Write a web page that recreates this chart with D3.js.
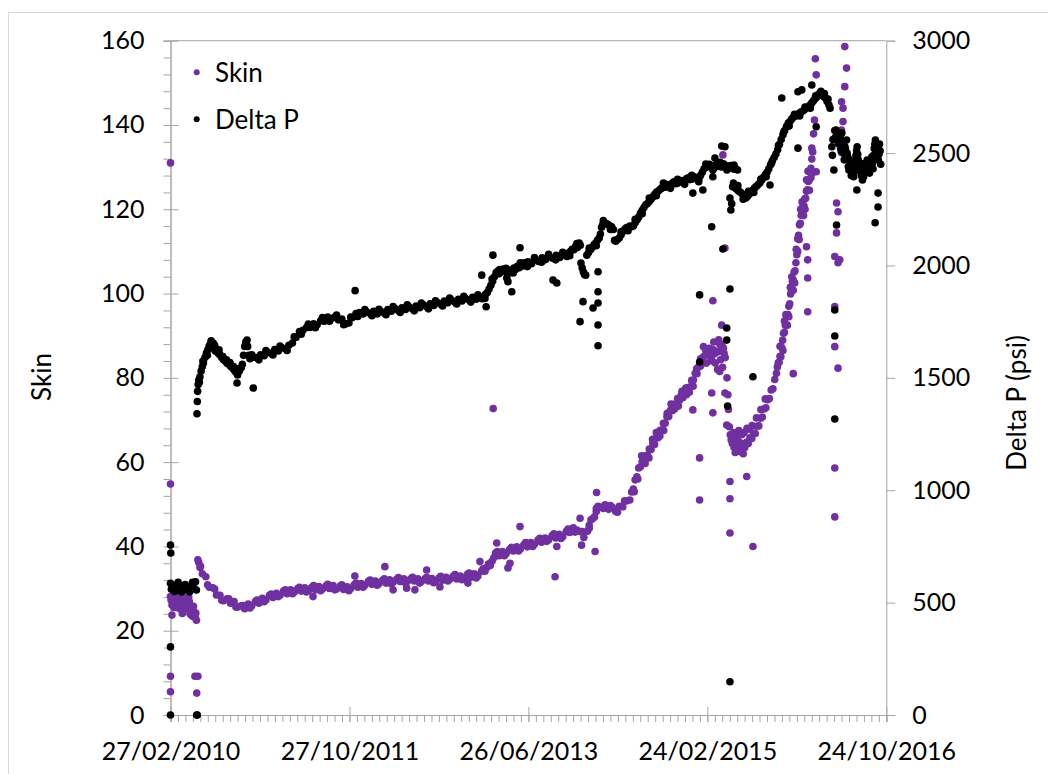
<!DOCTYPE html>
<html><head><meta charset="utf-8">
<script src="https://cdn.jsdelivr.net/npm/d3@7"></script>
<style>
body{margin:0;background:#fff}
text{font-family:Lato,"Open Sans",sans-serif;fill:#000}
</style>
</head><body>
<svg id="c" width="1048" height="774"></svg>
<script>
// ---------- tick labels / axes ----------
const xTickLabels = ["27/02/2010","27/10/2011","26/06/2013","24/02/2015","24/10/2016"];
const leftTicks = [0,20,40,60,80,100,120,140,160];
const rightTicks = [0,500,1000,1500,2000,2500,3000];
const seriesNames = ["Skin","Delta P"];
// day offsets from 27/02/2010, values
const skinEarly = [[0,28.1],[2,27.3],[5,26.1],[8,27.7],[12,25.5],[15,27.3],[18,28.5],[20,26.5],[25,25.7],[28,27],[32,26.3],[35,28.1],[40,24.1],[45,26.8],[48,25.2],[52,27.6],[56,26.4],[60,25.8],[62,28],[66,24.1],[70,23.7],[72,24.9],[76,23.4],[80,24.5],[84,23.2],[88,22.5],[5,23.7],[22,27.8],[38,26.9],[58,27.2],[10,27.0],[30,25.3],[44,27.9],[64,26.9],[78,25.8],[86,24.2]];
const skinBand = [[93,36.8],[96,36.2],[100,35],[108,33.5],[120,32.8],[132,30.3],[144,30.2],[156,28.5],[168,28.4],[180,27.1],[192,27.6],[204,26.5],[216,26.9],[228,25.6],[240,25.9],[252,25.2],[264,26.3],[276,25.9],[288,26.9],[300,26.5],[312,27.7],[324,27.3],[336,28.4],[348,27.9],[360,28.9],[372,28.4],[384,29.4],[396,28.8],[408,29.7],[420,29.1],[432,30.0],[444,29.4],[456,30.2],[468,29.5],[480,30.3],[492,29.7],[504,30.5],[516,29.9],[528,30.6],[540,30.0],[552,30.7],[564,29.9],[576,30.6],[588,29.8],[600,30.4],[612,30.0],[624,30.9],[636,30.3],[648,31.2],[660,30.8],[672,31.7],[684,31.0],[696,31.8],[708,31.2],[720,31.9],[732,31.3],[744,32.1],[756,31.5],[768,32.2],[780,31.7],[792,32.3],[804,31.7],[816,32.3],[828,31.8],[840,32.3],[852,31.7],[864,32.3],[876,31.8],[888,32.4],[900,31.8],[912,32.5],[924,32.0],[936,32.7],[948,32.2],[960,32.9],[972,32.3],[984,33.0],[996,32.5],[1008,33.3],[1020,32.7],[1032,33.5],[1044,33.0],[1056,34.1],[1062,34.6],[1068,34.1],[1074,35.0],[1080,35.8],[1086,36.0],[1092,36.5],[1098,37.3],[1104,38.4],[1116,37.8],[1128,38.8],[1140,38.3],[1152,39.3],[1164,38.9],[1176,39.9],[1188,39.4],[1200,40.4],[1212,39.9],[1224,40.9],[1236,40.5],[1248,41.5],[1260,41.0],[1272,42.0],[1284,41.6],[1296,42.6],[1308,42.0],[1320,42.9],[1332,42.3],[1344,43.5],[1356,43.3],[1368,44.4],[1380,43.9],[1392,43.5],[1404,42.1],[1416,43.6],[1422,45.0],[1428,46.3],[1434,46.6],[1440,47.0],[1446,48.3],[1452,49.5],[1464,49.3],[1476,49.9],[1488,48.8],[1500,49.3],[1512,48.3],[1524,49.5],[1536,49.4],[1548,50.8]];
const skinBand2 = [[102,35.3],[126,30.9],[150,29.9],[174,27.2],[198,27.6],[222,25.6],[246,26.0],[270,25.4],[294,27.3],[318,26.9],[342,28.7],[366,28.1],[390,29.7],[414,28.8],[438,30.3],[462,29.2],[486,30.7],[510,29.5],[534,31.0],[558,29.7],[582,30.9],[606,29.5],[630,31.3],[654,30.3],[678,32.0],[702,30.8],[726,32.3],[750,31.1],[774,32.6],[798,31.3],[822,32.7],[846,31.3],[870,32.7],[894,31.4],[918,32.9],[942,31.8],[966,33.3],[990,32.1],[1014,33.7],[1038,32.5],[1062,34.7],[1086,35.5],[1110,38.8],[1134,37.8],[1158,39.8],[1182,38.9],[1206,40.9],[1230,40.0],[1254,41.9],[1278,41.2],[1302,43.0],[1326,41.9],[1350,44.1],[1374,43.4],[1398,43.5],[1422,44.3],[1446,49.0],[1470,49.0],[1494,49.7],[1518,48.1],[1542,50.8]];
const skinRise1 = [[1560,51.0],[1566,52.9],[1572,53.6],[1578,55.8],[1584,56.5],[1590,58.6],[1596,58.9],[1602,60.2],[1608,60.1],[1614,61.5],[1620,61.6],[1626,63.1],[1632,63.0],[1638,64.5],[1644,64.2],[1650,65.7],[1656,65.8],[1662,67.5],[1668,67.6],[1674,69.2],[1680,69.2],[1686,70.8],[1692,70.8],[1698,72.3],[1704,72.2],[1710,73.7],[1716,73.6],[1722,75.1],[1728,74.6],[1734,75.8],[1740,75.3],[1746,76.5],[1752,76.0],[1758,77.7],[1764,77.8],[1770,79.4],[1776,79.5],[1782,81.1],[1788,81.0],[1794,82.6],[1800,82.8],[1806,84.7],[1812,85.1],[1818,86.5],[1824,85.9],[1830,87.0],[1836,86.1],[1842,86.7],[1848,85.7],[1854,86.3],[1860,86.2],[1866,87.9],[1872,87.9],[1878,87.1],[1884,84.8],
 [1575,53],[1600,61.5],[1625,61],[1650,67],[1675,67.5],[1700,73.8],[1725,73.3],[1750,77.6],[1775,78],[1800,84.5],
 [1587,56.0],[1612,59.7],[1637,65.4],[1662,66.2],[1687,71.6],[1712,72.6],[1737,76.8],[1762,76.6],[1787,82.2],[1812,83.6],
 [1820,83.5],[1810,87.4],[1840,84],[1845,88.5],[1850,83.5],[1858,82],[1862,89],[1865,81.5],[1875,82.5],[1880,85.8],[1835,84.8],[1868,84.3],
 [1890,80],[1893,76],[1895,72.5],[1898,68.4],[1901,66.5],[1904,65.3]];
const skinRise2 = [[1908,64.4],[1914,63.5],[1920,64.7],[1926,64.1],[1932,64.7],[1938,63.7],[1944,64.3],[1950,63.4],[1956,64.7],[1962,64.4],[1968,65.8],[1974,65.6],[1980,66.9],[1986,66.8],[1992,68.5],[1998,68.6],[2004,70.4],[2010,70.7],[2016,72.6],[2022,72.9],[2028,74.8],[2034,75.1],[2040,77.1],[2046,77.4],[2052,79.6],[2058,81.1],
 [1912,67],[1918,62.3],[1920,66.5],[1925,66],[1930,67.5],[1935,62.5],[1940,66.5],[1945,62],[1948,67],[1958,68],[1965,67.8],[1975,68.7],[1990,70.5],[2005,72.5],[2020,75],
 [2061,82.6],[2064,83.6],[2067,83.7],[2070,85.1],[2073,85.0],[2076,87.2],[2079,88.9],[2082,90.6],[2085,90.8],[2088,92.5],[2091,92.6],[2094,94.6],[2097,95.0],[2100,97.0],[2103,97.6],[2106,99.9],[2109,100.6],[2112,102.9],[2115,103.2],[2118,105.1],[2121,105.4],[2124,107.3],[2127,109.2],[2130,113.0],[2133,113.8],[2136,116.3],[2139,116.7],[2142,118.6],[2145,119.0],[2148,120.8],[2151,120.9],[2154,122.5],[2157,122.6],[2160,124.3],[2163,124.6],[2166,126.6],[2169,126.9],[2172,129.1],[2175,129.7],[2178,131.9],[2181,133.6],[2184,137.9],[2187,141.2],
 [2070,87.5],[2080,86.5],[2090,95],[2100,94.5],[2110,104],[2120,102.5],[2130,110],[2140,120],[2150,118.5],[2160,127],[2170,124.5],[2178,134.5],
 [2085,93.5],[2095,92.5],[2105,101.5],[2115,100.8],[2125,110.5],[2135,112.8],[2145,121.8],[2155,120.0],[2165,129.0],[2175,127.5]];
const skinOutliers = [[0,131],[0,54.8],[0,9.2],[0,5.5],[83,9.2],[93,9.2],[89,5.2],[626,33],[728,35.2],[756,29.7],[484,28.1],[802,30.1],[830,29.7],[870,34.4],[915,30.4],[1010,31.3],[1051,36.4],[1108,40.8],[1146,34.9],[1153,36],[1187,44.7],[1306,32.8],[1312,40],[1391,46.7],[1396,40.3],[1442,38.8],[1096,72.7],[1447,52.8],[1797,61],[1797,51],[1838,76.4],[1842,71.7],[1774,72.4],[1883,76.4],[1889,68.8],[1900,55.4],[1900,51.3],[1900,43.2],[1957,56.6],[1978,40],[2115,81],[1842,98.3],[1872,92.5],[1883,110.8],[1876,132.9],[2193,151.9],[2190,155.7],[2160,111.1],[2164,103.7],[2164,95.7],[2164,108],[2180,128.6],[2193,128.9],[2290,158.6],[2296,153.5],[2290,149.1],[2279,145.5],[2284,144],[2284,140.8],[2279,138.8],[2279,133.4],[2262,121.5],[2267,119.4],[2262,114.4],[2256,108.8],[2273,108],[2267,107.3],[2256,96.9],[2256,87.4],[2267,82.3],[2256,58.6],[2256,47]];

const dpEarly = [[0,586],[3,560],[6,565],[10,578],[14,550],[18,574],[22,560],[26,590],[30,556],[34,570],[38,548],[42,575],[46,562],[50,580],[55,556],[60,570],[65,548],[70,575],[75,590],[80,565],[85,593],[88,556]];
const dpRise = [[90,1340],[91,1395],[92,1440],[94,1470],[96,1490],[98,1480],[100,1505],[104,1530],[108,1550],[112,1566],[117,1590],[122,1610],[127,1625],[131,1640],[135,1650],[140,1635],[145,1655],[150,1645],[156,1625],[162,1610],[168,1602],[174,1590],[180,1580],[186,1575],[192,1565],[198,1560],[204,1552],[210,1545],[216,1535],[222,1525],[228,1513],[234,1530],[240,1545],[244,1560],[248,1600],[252,1640],[256,1660],[260,1668],[262,1640],[266,1600],
 [110,1575],[125,1600],[138,1665],[152,1620],[165,1625],[178,1595],[190,1580],[202,1568],[214,1550],[226,1540]];
const dpBand = [[270,1585],[282,1592],[294,1590],[306,1602],[318,1598],[330,1614],[342,1608],[354,1626],[366,1620],[378,1634],[390,1630],[402,1645],[414,1655],[426,1680],[438,1706],[450,1712],[462,1724],[474,1724],[486,1740],[498,1736],[510,1754],[522,1752],[534,1770],[546,1764],[558,1770],[570,1758],[582,1762],[594,1740],[606,1744],[618,1768],[630,1786],[642,1790],[654,1784],[666,1794],[678,1786],[690,1796],[702,1784],[714,1796],[726,1788],[738,1804],[750,1796],[762,1808],[774,1800],[786,1812],[798,1804],[810,1816],[822,1806],[834,1819],[846,1812],[858,1825],[870,1816],[882,1829],[894,1822],[906,1835],[918,1828],[930,1842],[942,1834],[954,1846],[966,1838],[978,1850],[990,1842],[1002,1853],[1014,1846],[1026,1858],[1038,1850],[1050,1860],[1058,1852],[1064,1862],[1070,1872],[1076,1880],[1082,1895],[1088,1912],[1094,1930],[1100,1950],[1106,1968],[1112,1975],[1118,1982],[1124,1972],[1130,1984],[1136,1975],[1142,1970],[1148,1980],[1154,1968],[1160,1978],[1166,1988],[1172,1982],[1178,1996],[1184,1990],[1190,2004],[1196,1998],[1202,2012],[1208,2004],[1214,2016],[1226,2008],[1238,2025],[1250,2018],[1262,2034],[1274,2026],[1286,2040],[1298,2032],[1310,2045],[1322,2036],[1334,2050],[1346,2040],[1352,2055],[1358,2062],[1364,2072],[1370,2070],[1376,2085],[1382,2080],[1388,2100],[1392,2090]];
const dpBand2 = [[276,1603],[300,1580],[324,1621],[348,1602],[372,1642],[396,1622],[420,1683],[444,1694],[468,1739],[492,1723],[516,1768],[540,1752],[564,1779],[588,1736],[612,1771],[636,1773],[660,1804],[684,1776],[708,1805],[732,1781],[756,1817],[780,1791],[804,1825],[828,1798],[852,1833],[876,1807],[900,1843],[924,1820],[948,1855],[972,1829],[996,1863],[1020,1837],[1044,1870],[1068,1853],[1092,1940],[1116,1963],[1140,1987],[1164,1967],[1188,2012],[1212,1995],[1236,2035],[1260,2014],[1284,2050],[1308,2025],[1332,2059],[1356,2043],[1380,2097]];
const dpMid = [[1394,2011],[1398,1990],[1402,1972],[1406,1960],[1410,1957],[1414,2046],[1420,2058],[1426,2070],[1432,2080],[1438,2092],[1444,2100],[1450,2112],[1456,2122],[1460,2140],[1464,2170],[1468,2182],[1474,2190],[1480,2186],[1486,2182],[1492,2176],[1498,2172],[1504,2160],[1508,2112],[1512,2108],[1518,2115],[1524,2122],[1530,2135],[1536,2150],[1542,2160],[1548,2168],[1554,2170],[1560,2175],[1566,2172],[1572,2176],[1578,2190],[1584,2202],[1590,2215],[1596,2232],[1602,2245],[1608,2258],[1614,2270],[1620,2276],[1626,2285],[1632,2295],[1638,2305],[1644,2316],[1650,2325],[1656,2330],[1662,2338],[1668,2344],[1674,2352],[1680,2348],[1686,2360],[1692,2354],[1698,2356],[1704,2366],[1710,2372],[1716,2364],[1722,2366],[1728,2376],[1734,2378],[1740,2370],[1746,2374],[1752,2386],[1758,2390],[1764,2382],[1770,2384],[1776,2394],[1782,2392],[1788,2384],[1794,2385],[1800,2400],[1806,2415],[1812,2430],[1818,2436],[1824,2440],[1830,2450],[1836,2445],[1842,2438],[1848,2436],[1854,2450],[1860,2448],[1866,2440],[1872,2438],[1878,2452],[1884,2446],[1890,2440],[1896,2434],[1902,2445],[1908,2440],[1914,2428],[1920,2430],[1926,2425],
 [1422,2077],[1446,2088],[1470,2200],[1494,2160],[1530,2150],[1554,2155],[1578,2205],[1602,2230],[1626,2300],[1650,2310],[1674,2367],[1698,2343],[1722,2383],[1746,2361],[1770,2401],[1794,2373],[1818,2451],[1842,2425],[1866,2459],[1890,2425],[1914,2447]];
const dpLate = [[1900,2300],[1903,2247],[1906,2275],[1909,2350],[1912,2367],[1918,2345],[1924,2338],[1930,2330],[1936,2326],[1942,2318],[1948,2310],[1954,2300],[1960,2308],[1966,2318],[1972,2326],[1978,2336],[1984,2345],[1990,2352],[1996,2360],[2002,2368],[2008,2380],[2014,2392],[2020,2404],[2026,2415],[2032,2430],[2038,2448],[2044,2466],[2050,2480],[2056,2496],[2062,2515],[2068,2538],[2074,2560],[2080,2582],[2086,2600],[2092,2618],[2098,2634],[2104,2640],[2110,2652],[2116,2660],[2122,2664],[2128,2670],[2134,2676],[2140,2682],[2146,2686],[2152,2692],[2158,2700],[2164,2704],[2170,2710],[2176,2720],[2182,2730],[2188,2740],[2194,2748],[2200,2760],[2206,2767],[2212,2760],[2218,2752],[2224,2745],[2230,2730],[2236,2715],[2240,2700],
 [1927,2355],[1945,2295],[1963,2330],[1981,2325],[2005,2385],[2023,2395],[2041,2455],[2065,2535],[2083,2595],[2101,2620],[2119,2672],[2137,2665],[2155,2705],[2173,2700],[2191,2755],[2209,2775],[2221,2765],[2233,2740]];
const dpEnd = [[2246,2528],[2248,2490],[2250,2560],[2253,2425],[2256,2600],[2258,2570],[2260,2603],[2263,2560],[2266,2589],[2268,2545],[2270,2540],[2274,2575],[2276,2520],[2278,2510],[2280,2589],[2282,2555],[2284,2545],[2286,2500],[2288,2470],[2290,2530],[2292,2520],[2294,2480],[2296,2558],[2298,2500],[2300,2484],[2302,2440],[2304,2425],[2306,2470],[2308,2460],[2310,2430],[2312,2400],[2314,2445],[2316,2430],[2318,2410],[2320,2395],[2322,2425],[2324,2450],[2326,2470],[2328,2490],[2330,2510],[2332,2528],[2334,2495],[2336,2470],[2338,2440],[2340,2420],[2342,2456],[2344,2430],[2346,2400],[2348,2420],[2350,2380],[2352,2410],[2354,2395],[2356,2425],[2358,2440],[2360,2455],[2362,2420],[2364,2445],[2366,2469],[2368,2440],[2370,2430],[2372,2450],[2374,2411],[2376,2435],[2378,2450],[2380,2470],[2382,2484],[2384,2455],[2386,2430],[2388,2490],[2390,2520],[2392,2540],[2394,2558],[2396,2530],[2398,2500],[2400,2536],[2402,2515],[2404,2470],[2406,2495],[2408,2540],[2410,2510],[2412,2450]];
const dpOutliers = [[0,756],[1,721],[0,303],[0,0],[89,0],[91,0],[226,1477],[281,1455],[627,1888],[1057,1957],[1095,2046],[1187,2079],[1159,1883],[1072,1816],[1142,1944],[1146,1928],[1299,1935],[1312,1922],[1401,1839],[1391,1750],[1435,1811],[1452,1833],[1452,1972],[1452,1883],[1452,1735],[1452,1643],[1883,2528],[1849,2478],[1838,2172],[1876,2073],[1797,1869],[1900,1895],[1889,1722],[1774,2322],[1808,2336],[1842,2395],[1872,2531],[2076,2745],[2131,2773],[2144,2781],[2178,2803],[2193,2617],[2131,2522],[2036,2358],[2262,2180],[2256,1802],[2403,2322],[2403,2260],[2393,2190],[2331,2336],[2256,1686],[2256,1317],[1889,1668],[1797,1570],[1892,1375],[1978,1505],[1900,148]];

// ---------- drawing ----------
const startMs = Date.UTC(2010,1,27), endMs = Date.UTC(2016,9,24);
const toDate = d => new Date(startMs + d*864e5);
const svg = d3.select("#c");
const L = 170.5, R = 886.3, T = 40.7, B = 715;
const x = d3.scaleUtc().domain([new Date(startMs), new Date(endMs)]).range([L, R]);
const yL = d3.scaleLinear().domain([0,160]).range([B, T]);
const yR = d3.scaleLinear().domain([0,3000]).range([B, T]);
const purple = "#7030A0", axisCol = "#a6a6a6";
const fs = 25;

svg.append("rect").attr("x",8.5).attr("y",12.5).attr("width",1100).attr("height",1000)
  .attr("fill","none").attr("stroke","#d9d9d9");
svg.append("line").attr("x1",L).attr("x2",R).attr("y1",T).attr("y2",T).attr("stroke",axisCol);

function styleAxis(g){ g.select(".domain").attr("stroke",axisCol); g.selectAll(".tick line").attr("stroke",axisCol); }

const minorL = d3.range(0,161,4).filter(v => v%20!==0);
svg.append("g").attr("transform",`translate(${L},0)`)
  .call(d3.axisLeft(yL).tickValues(minorL).tickSize(7).tickFormat(""))
  .call(styleAxis);
svg.append("g").attr("transform",`translate(${L},0)`)
  .call(d3.axisRight(yL).tickValues(leftTicks).tickSize(8).tickFormat(""))
  .call(g=>g.select(".domain").remove()).call(styleAxis);
svg.append("g").attr("transform",`translate(${L},0)`)
  .call(d3.axisLeft(yL).tickValues(leftTicks).tickSize(7).tickPadding(19).tickFormat(d3.format("d")))
  .call(styleAxis)
  .call(g=>g.selectAll("text").attr("font-size",fs).attr("font-family","Lato").attr("fill","#000"));

svg.append("g").attr("transform",`translate(${R},0)`)
  .call(d3.axisRight(yR).tickValues(rightTicks).tickSize(9).tickPadding(17).tickFormat(d3.format("d")))
  .call(styleAxis)
  .call(g=>g.selectAll("text").attr("font-size",fs).attr("font-family","Lato").attr("fill","#000"));

const majorX = d3.range(5).map(k => new Date(startMs + k*(endMs-startMs)/4));
const minorX = d3.range(97).map(k => new Date(startMs + k*(endMs-startMs)/96));
svg.append("g").attr("transform",`translate(0,${B})`)
  .call(d3.axisBottom(x).tickValues(minorX).tickSize(7).tickFormat(""))
  .call(styleAxis);
svg.append("g").attr("transform",`translate(0,${B})`)
  .call(d3.axisTop(x).tickValues(majorX).tickSize(8).tickFormat(""))
  .call(g=>g.select(".domain").remove()).call(styleAxis);
svg.append("g").attr("transform",`translate(0,${B})`)
  .call(d3.axisBottom(x).tickValues(majorX).tickSize(7).tickPadding(20).tickFormat((d,i)=>xTickLabels[i]))
  .call(styleAxis)
  .call(g=>g.selectAll("text").attr("font-size",fs).attr("font-family","Lato").attr("fill","#000"));

svg.append("text").attr("transform","translate(42,377) rotate(-90)").attr("text-anchor","middle")
  .attr("dy","0.35em").attr("font-size",26).text("Skin");
svg.append("text").attr("transform","translate(1017,403) rotate(-90)").attr("text-anchor","middle")
  .attr("dy","0.35em").attr("font-size",26).text("Delta P (psi)");

const skinAll = [].concat(skinEarly, skinBand, skinBand2, skinRise1, skinRise2, skinOutliers);
const dpAll = [].concat(dpEarly, dpRise, dpBand, dpBand2, dpMid, dpLate, dpEnd, dpOutliers);
const plot = svg.append("g");
plot.selectAll("circle.s").data(skinAll).join("circle").attr("class","s")
  .attr("cx",d=>x(toDate(d[0]))).attr("cy",d=>yL(d[1])).attr("r",3.8).attr("fill",purple);
plot.selectAll("circle.p").data(dpAll).join("circle").attr("class","p")
  .attr("cx",d=>x(toDate(d[0]))).attr("cy",d=>yR(d[1])).attr("r",3.8).attr("fill","#000");

const leg = svg.append("g");
[[purple,72.3],["#000",119.3]].forEach((c,i)=>{
  leg.append("circle").attr("cx",196.7).attr("cy",c[1]).attr("r",3).attr("fill",c[0]);
  leg.append("text").attr("x",215).attr("y",c[1]+9.5).attr("font-size",26).text(seriesNames[i]);
});
</script>
</body></html>
